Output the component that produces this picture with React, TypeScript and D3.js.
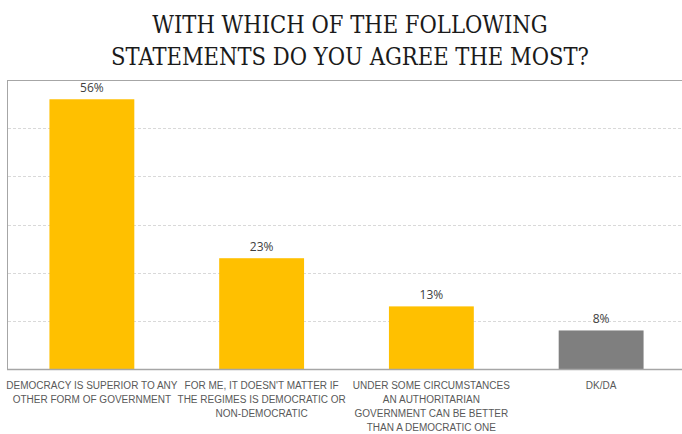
import React from "react";
import * as d3 from "d3";

const categories: string[][] = [
  ["DEMOCRACY IS SUPERIOR TO ANY", "OTHER FORM OF GOVERNMENT"],
  ["FOR ME, IT DOESN'T MATTER IF", "THE REGIMES IS DEMOCRATIC OR", "NON-DEMOCRATIC"],
  ["UNDER SOME CIRCUMSTANCES", "AN AUTHORITARIAN", "GOVERNMENT CAN BE BETTER", "THAN A DEMOCRATIC ONE"],
  ["DK/DA"],
];
const values: number[] = [56, 23, 13, 8];
const valueLabels: string[] = ["56%", "23%", "13%", "8%"];
const barColors: string[] = ["#FFC000", "#FFC000", "#FFC000", "#7F7F7F"];
const gridTicks: number[] = [10, 20, 30, 40, 50];
const titleLines: string[] = ["WITH WHICH OF THE FOLLOWING", "STATEMENTS DO YOU AGREE THE MOST?"];

const W = 682;
const H = 434;
const left = 7;
const right = 686;
const top = 80;
const bottom = 369;

export default function App() {
  const idx = values.map((_, i) => String(i));
  const x = d3.scaleBand<string>().domain(idx).range([left, right]).paddingInner(0.5).paddingOuter(0.25);
  const y = d3.scaleLinear().domain([0, 60]).range([bottom, top]);
  const labelFont = "'Liberation Sans', Arial, sans-serif";

  return (
    <svg width={W} height={H} style={{ position: "absolute", left: 0, top: 0, display: "block" }}>
      <rect x={0} y={0} width={W} height={H} fill="#ffffff" />
      {titleLines.map((t, i) => (
        <text
          key={i}
          x={350}
          y={33 + i * 31.5}
          textAnchor="middle"
          fontFamily="'DejaVu Serif Condensed', 'DejaVu Serif', serif"
          fontSize={23.5}
          fill="#1a1a1a"
        >
          {t}
        </text>
      ))}
      <rect x={left + 0.5} y={top + 0.5} width={right - left} height={bottom - top} fill="none" stroke="#a6a6a6" strokeWidth={1} />
      {gridTicks.map((t) => (
        <line
          key={t}
          x1={left + 1}
          x2={right}
          y1={Math.round(y(t)) + 0.5}
          y2={Math.round(y(t)) + 0.5}
          stroke="#d9d9d9"
          strokeWidth={1}
          strokeDasharray="3,2"
        />
      ))}
      {values.map((v, i) => (
        <rect
          key={i}
          x={x(String(i))}
          y={y(v)}
          width={x.bandwidth()}
          height={bottom - y(v)}
          fill={barColors[i]}
        />
      ))}
      <line x1={left} x2={right} y1={bottom + 0.5} y2={bottom + 0.5} stroke="#a6a6a6" strokeWidth={1.5} />
      {values.map((v, i) => (
        <text
          key={i}
          x={(x(String(i)) as number) + x.bandwidth() / 2}
          y={y(v) - 7}
          textAnchor="middle"
          fontFamily="'Open Sans', sans-serif"
          fontSize={12}
          fill="#404040"
        >
          {valueLabels[i]}
        </text>
      ))}
      {categories.map((lines, i) => (
        <text
          key={i}
          textAnchor="middle"
          fontFamily={labelFont}
          fontSize={10}
          fill="#595959"
        >
          {lines.map((l, j) => (
            <tspan key={j} x={(x(String(i)) as number) + x.bandwidth() / 2} y={389 + j * 14}>
              {l}
            </tspan>
          ))}
        </text>
      ))}
    </svg>
  );
}
